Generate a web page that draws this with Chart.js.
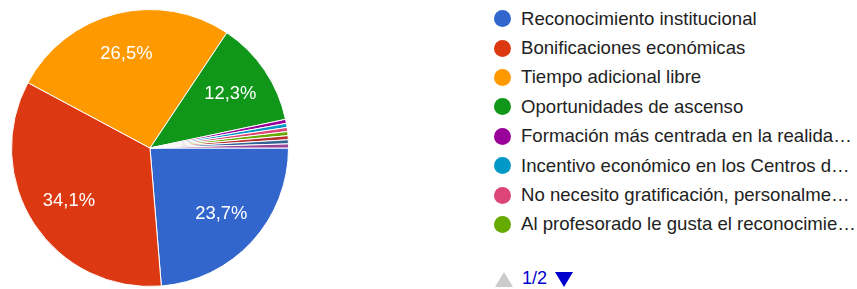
<!DOCTYPE html>
<html>
<head>
<meta charset="utf-8">
<script src="https://cdn.jsdelivr.net/npm/chart.js@4/dist/chart.umd.min.js"></script>
<style>
  body { margin: 0; background: #fff; font-family: Arial, "Liberation Sans", sans-serif; }
  #wrap { position: relative; width: 857px; height: 289px; overflow: hidden; }
  #pie { position: absolute; left: 11px; top: 9px; width: 278px; height: 278px; }
  #legend { position: absolute; left: 494px; top: 4px; }
  .item { display: flex; align-items: center; height: 29.4px; }
  .dot { width: 17px; height: 17px; border-radius: 50%; margin-right: 10px; flex: none; }
  .txt { font-size: 18.6px; color: #222; white-space: nowrap; overflow: hidden; text-overflow: ellipsis; width: 337px; }
  #up { position: absolute; left: 495px; top: 272px; width: 0; height: 0;
        border-left: 9px solid transparent; border-right: 9px solid transparent; border-bottom: 15px solid #ccc; }
  #page { position: absolute; left: 522px; top: 268px; font-size: 18px; color: #0000cc; }
  #down { position: absolute; left: 555px; top: 272px; width: 0; height: 0;
          border-left: 9px solid transparent; border-right: 9px solid transparent; border-top: 15px solid #0000cc; }
</style>
</head>
<body>
<div id="wrap">
  <div id="pie"><canvas id="chart"></canvas></div>
  <div id="legend"></div>
  <div id="up"></div>
  <div id="page">1/2</div>
  <div id="down"></div>
</div>
<script>
// respuestas (las tres últimas categorías están en la página 2 de la leyenda)
const labels = [
  'Reconocimiento institucional',
  'Bonificaciones económicas',
  'Tiempo adicional libre',
  'Oportunidades de ascenso',
  'Formación más centrada en la realidad del aula',
  'Incentivo económico en los Centros de difícil desempeño',
  'No necesito gratificación, personalmente me motiva mi trabajo',
  'Al profesorado le gusta el reconocimiento de su labor',
  'Otra respuesta 1',
  'Otra respuesta 2',
  'Otra respuesta 3'
];
const counts = [50, 72, 56, 26, 1, 1, 1, 1, 1, 1, 1];
const colors = ['#3366cc', '#dc3912', '#ff9900', '#109618', '#990099', '#0099c6',
                '#dd4477', '#66aa00', '#b82e2e', '#316395', '#994499'];
const legendPageSize = 8;

// leyenda (página 1)
let legendEl = document.getElementById('legend');
labels.slice(0, legendPageSize).forEach(function (lab, i) {
    let row = document.createElement('div');
    row.className = 'item';
    row.innerHTML = '<span class="dot" style="background:' + colors[i] + '"></span><span class="txt"></span>';
    row.querySelector('.txt').textContent = lab;
    legendEl.appendChild(row);
});

// porcentajes dentro de las porciones
const pctLabels = {
    id: 'pctLabels',
    afterDatasetsDraw(chart) {
        let ctx = chart.ctx;
        let total = counts.reduce((a, b) => a + b, 0);
        ctx.save();
        ctx.font = '18.4px Arial, "Liberation Sans", sans-serif';
        ctx.fillStyle = '#fff';
        ctx.textAlign = 'center';
        ctx.textBaseline = 'middle';
        chart.getDatasetMeta(0).data.forEach(function (arc, i) {
            let p = counts[i] * 100 / total;
            if (p < 5) return;
            let a = arc.getProps(['x', 'y', 'startAngle', 'endAngle', 'outerRadius'], true);
            let mid = (a.startAngle + a.endAngle) / 2;
            let r = a.outerRadius * 0.7;
            ctx.fillText(p.toFixed(1).replace('.', ',') + '%', a.x + Math.cos(mid) * r, a.y + Math.sin(mid) * r);
        });
        ctx.restore();
    }
};

let ctx = document.getElementById('chart').getContext('2d');
let mychart = new Chart(ctx, {
    type: 'pie',
    data: {
        labels: labels,
        datasets: [{
            data: counts,
            backgroundColor: colors,
            borderColor: '#fff',
            borderWidth: 1,
            hoverOffset: 0
        }]
    },
    options: {
        responsive: true,
        maintainAspectRatio: false,
        animation: false,
        rotation: 90,
        layout: { padding: 0 },
        plugins: {
            legend: { display: false },
            tooltip: { enabled: false }
        }
    },
    plugins: [pctLabels]
});
</script>
</body>
</html>
